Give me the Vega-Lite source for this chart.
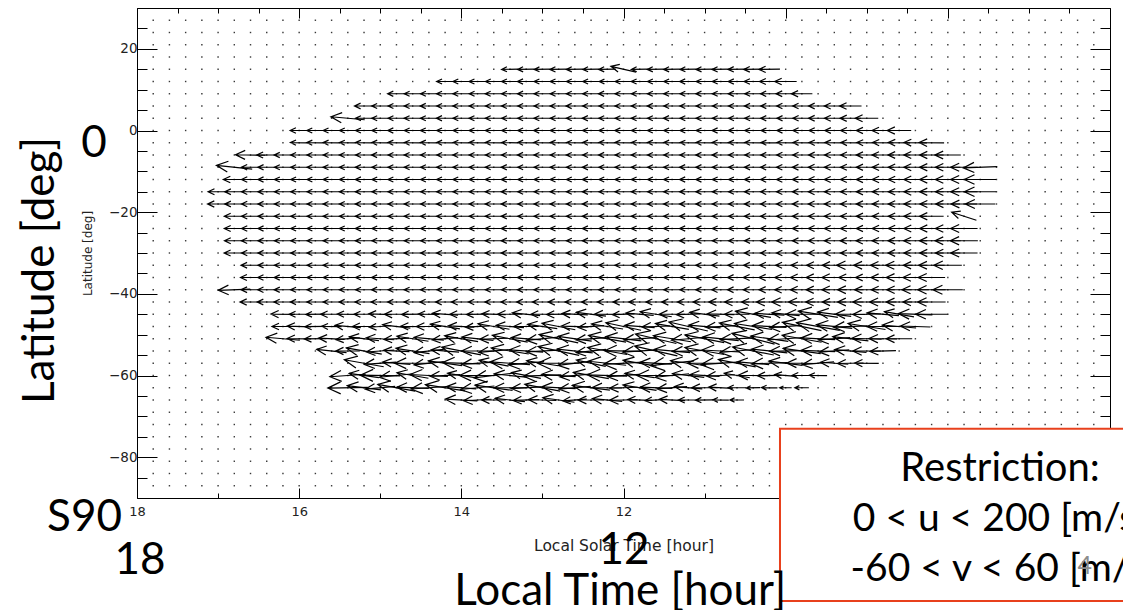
{
  "$schema": "https://vega.github.io/schema/vega-lite/v6.json",
  "width": 973,
  "height": 490,
  "autosize": {"type": "none"},
  "padding": {"left": 137, "top": 8, "right": 13, "bottom": 112},
  "background": "white",
  "config": {
    "view": {"stroke": "black", "strokeWidth": 1},
    "axis": {"domain": false, "grid": false}
  },
  "data": {"values": [{}]},
  "datasets": {
    "grid": [
      {"gl": [17.8,17.6,17.4,17.2,17,16.8,16.6,16.4,16.2,16,15.8,15.6,15.4,15.2,15,14.8,14.6,14.4,14.2,14,13.8,13.6,13.4,13.2,13,12.8,12.6,12.4,12.2,12,11.8,11.6,11.4,11.2,11,10.8,10.6,10.4,10.2,10,9.8,9.6,9.4,9.2,9,8.8,8.6,8.4,8.2,8,7.8,7.6,7.4,7.2,7,6.8,6.6,6.4,6.2],
       "ga": [27,24,21,18,15,12,9,6,3,0,-3,-6,-9,-12,-15,-18,-21,-24,-27,-30,-33,-36,-39,-42,-45,-48,-51,-54,-57,-60,-63,-66,-69,-72,-75,-78,-81,-84,-87]}
    ],
    "core": [
      {"lat": 15, "h": 269, "lt": [13.4,13.2,13,12.8,12.6,12.4,12.2,11.8,11.6,11.4,11.2,11,10.8,10.6,10.4,10.2], "s": [84,86,82,88,85,83,86,84,87,85,83,86,88,90,95,105]},
      {"lat": 12, "h": 270, "lt": [14.2,14,13.8,13.6,13.4,13.2,13,12.8,12.6,12.4,12.2,12,11.8,11.6,11.4,11.2,11,10.8,10.6,10.4,10.2,10], "s": [85,84,86,83,85,88,84,86,85,83,80,84,86,85,84,87,85,86,88,92,100,110]},
      {"lat": 9, "h": 270, "lt": [14.8,14.6,14.4,14.2,14,13.8,13.6,13.4,13.2,13,12.8,12.6,12.4,12.2,12,11.8,11.6,11.4,11.2,11,10.8,10.6,10.4,10.2,10,9.8], "s": [88,85,84,86,85,83,86,85,87,84,85,86,84,88,85,83,86,85,84,87,86,88,85,90,96,105]},
      {"lat": 6, "h": 270, "lt": [15.2,15,14.8,14.6,14.4,14.2,14,13.8,13.6,13.4,13.2,13,12.8,12.6,12.4,12.2,12,11.8,11.6,11.4,11.2,11,10.8,10.6,10.4,10.2,10,9.8,9.6,9.4,9.2], "s": [95,86,84,85,87,84,86,85,83,86,85,84,86,88,85,84,86,85,87,84,86,85,84,86,88,87,90,92,95,100,110]},
      {"lat": 3, "h": 270, "lt": [15.2,15,14.8,14.6,14.4,14.2,14,13.8,13.6,13.4,13.2,13,12.8,12.6,12.4,12.2,12,11.8,11.6,11.4,11.2,11,10.8,10.6,10.4,10.2,10,9.8,9.6,9.4,9.2,9], "s": [86,85,84,86,85,87,84,86,85,83,86,85,84,86,88,85,84,86,85,87,84,86,85,84,86,88,87,90,95,98,105,115]},
      {"lat": 0, "h": 270, "lt": [16,15.8,15.6,15.4,15.2,15,14.8,14.6,14.4,14.2,14,13.8,13.6,13.4,13.2,13,12.8,12.6,12.4,12.2,12,11.8,11.6,11.4,11.2,11,10.8,10.6,10.4,10.2,10,9.8,9.6,9.4,9.2,9,8.8,8.6], "s": [90,86,85,84,86,85,87,84,86,85,83,86,85,84,86,88,85,84,86,85,87,84,86,85,84,86,88,87,86,85,88,90,92,95,100,105,110,120]},
      {"lat": -3, "h": 271, "lt": [16,15.8,15.6,15.4,15.2,15,14.8,14.6,14.4,14.2,14,13.8,13.6,13.4,13.2,13,12.8,12.6,12.4,12.2,12,11.8,11.6,11.4,11.2,11,10.8,10.6,10.4,10.2,10,9.8,9.6,9.4,9.2,9,8.8,8.6,8.4,8.2], "s": [88,86,85,84,86,85,87,84,86,85,83,86,85,84,86,88,85,84,86,85,87,84,86,85,84,86,88,87,86,85,88,90,92,95,98,100,105,110,115,125]},
      {"lat": -6, "h": 270, "lt": [16.4,16.2,16,15.8,15.6,15.4,15.2,15,14.8,14.6,14.4,14.2,14,13.8,13.6,13.4,13.2,13,12.8,12.6,12.4,12.2,12,11.8,11.6,11.4,11.2,11,10.8,10.6,10.4,10.2,10,9.8,9.6,9.4,9.2,9,8.8,8.6,8.4,8.2,8], "s": [100,88,86,85,84,86,85,87,84,86,85,83,86,85,84,86,88,85,84,86,85,87,84,86,85,84,86,88,87,86,85,88,90,92,95,98,100,105,110,112,115,120,130]},
      {"lat": -9, "h": 270, "lt": [16.6,16.4,16.2,16,15.8,15.6,15.4,15.2,15,14.8,14.6,14.4,14.2,14,13.8,13.6,13.4,13.2,13,12.8,12.6,12.4,12.2,12,11.8,11.6,11.4,11.2,11,10.8,10.6,10.4,10.2,10,9.8,9.6,9.4,9.2,9,8.8,8.6,8.4,8.2,8,7.8], "s": [92,88,86,85,84,86,85,87,84,86,85,83,86,85,84,86,88,85,84,86,85,87,84,86,85,84,86,88,87,86,85,88,90,92,95,98,100,102,105,108,110,115,120,125,135]},
      {"lat": -12, "h": 270, "lt": [16.8,16.6,16.4,16.2,16,15.8,15.6,15.4,15.2,15,14.8,14.6,14.4,14.2,14,13.8,13.6,13.4,13.2,13,12.8,12.6,12.4,12.2,12,11.8,11.6,11.4,11.2,11,10.8,10.6,10.4,10.2,10,9.8,9.6,9.4,9.2,9,8.8,8.6,8.4,8.2,8,7.8,7.6], "s": [110,90,88,86,85,84,86,85,87,84,86,85,83,86,85,84,86,88,85,84,86,85,87,84,86,85,84,86,88,87,86,85,88,90,92,95,98,100,102,105,108,110,115,120,125,135,160]},
      {"lat": -15, "h": 270, "lt": [17,16.8,16.6,16.4,16.2,16,15.8,15.6,15.4,15.2,15,14.8,14.6,14.4,14.2,14,13.8,13.6,13.4,13.2,13,12.8,12.6,12.4,12.2,12,11.8,11.6,11.4,11.2,11,10.8,10.6,10.4,10.2,10,9.8,9.6,9.4,9.2,9,8.8,8.6,8.4,8.2,8,7.8,7.6], "s": [100,95,90,88,86,85,84,86,85,87,84,86,85,83,86,85,84,86,88,85,84,86,85,87,84,86,85,84,86,88,87,86,85,88,90,92,95,98,100,102,105,108,110,115,120,125,135,160]},
      {"lat": -18, "h": 270, "lt": [17,16.8,16.6,16.4,16.2,16,15.8,15.6,15.4,15.2,15,14.8,14.6,14.4,14.2,14,13.8,13.6,13.4,13.2,13,12.8,12.6,12.4,12.2,12,11.8,11.6,11.4,11.2,11,10.8,10.6,10.4,10.2,10,9.8,9.6,9.4,9.2,9,8.8,8.6,8.4,8.2,8,7.8,7.6], "s": [105,95,90,88,86,85,84,86,85,87,84,86,85,83,86,85,84,86,88,85,84,86,85,87,84,86,85,84,86,88,87,86,85,88,90,92,95,98,100,102,105,108,110,115,118,122,130,150]},
      {"lat": -21, "h": 270, "lt": [16.8,16.6,16.4,16.2,16,15.8,15.6,15.4,15.2,15,14.8,14.6,14.4,14.2,14,13.8,13.6,13.4,13.2,13,12.8,12.6,12.4,12.2,12,11.8,11.6,11.4,11.2,11,10.8,10.6,10.4,10.2,10,9.8,9.6,9.4,9.2,9,8.8,8.6,8.4,8.2], "s": [100,90,88,86,85,84,86,85,87,84,86,85,83,86,85,84,86,88,85,84,86,85,87,84,86,85,84,86,88,87,86,85,88,90,92,95,98,100,102,105,108,110,115,120]},
      {"lat": -24, "h": 270, "lt": [16.8,16.6,16.4,16.2,16,15.8,15.6,15.4,15.2,15,14.8,14.6,14.4,14.2,14,13.8,13.6,13.4,13.2,13,12.8,12.6,12.4,12.2,12,11.8,11.6,11.4,11.2,11,10.8,10.6,10.4,10.2,10,9.8,9.6,9.4,9.2,9,8.8,8.6,8.4,8.2,8,7.8], "s": [100,90,88,86,85,84,86,85,87,84,86,85,83,86,85,84,86,88,85,84,86,85,87,84,86,85,84,86,88,87,86,85,88,90,92,95,98,100,102,105,108,110,115,120,125,135]},
      {"lat": -27, "h": 270, "lt": [16.8,16.6,16.4,16.2,16,15.8,15.6,15.4,15.2,15,14.8,14.6,14.4,14.2,14,13.8,13.6,13.4,13.2,13,12.8,12.6,12.4,12.2,12,11.8,11.6,11.4,11.2,11,10.8,10.6,10.4,10.2,10,9.8,9.6,9.4,9.2,9,8.8,8.6,8.4,8.2,8,7.8], "s": [98,92,88,86,85,84,86,85,87,84,86,85,83,86,85,84,86,88,85,84,86,85,87,84,86,85,84,86,88,87,86,85,88,90,92,95,98,100,104,108,110,112,118,122,128,138]},
      {"lat": -30, "h": 270, "lt": [16.8,16.6,16.4,16.2,16,15.8,15.6,15.4,15.2,15,14.8,14.6,14.4,14.2,14,13.8,13.6,13.4,13.2,13,12.8,12.6,12.4,12.2,12,11.8,11.6,11.4,11.2,11,10.8,10.6,10.4,10.2,10,9.8,9.6,9.4,9.2,9,8.8,8.6,8.4,8.2,8,7.8], "s": [102,90,88,86,85,84,86,85,87,84,86,85,83,86,85,84,86,88,85,84,86,85,87,84,86,85,84,86,88,87,86,85,88,90,92,95,98,100,102,105,108,112,115,120,125,135]},
      {"lat": -33, "h": 270, "lt": [16.6,16.4,16.2,16,15.8,15.6,15.4,15.2,15,14.8,14.6,14.4,14.2,14,13.8,13.6,13.4,13.2,13,12.8,12.6,12.4,12.2,12,11.8,11.6,11.4,11.2,11,10.8,10.6,10.4,10.2,10,9.8,9.6,9.4,9.2,9,8.8,8.6,8.4,8.2,8], "s": [95,88,86,85,84,86,85,87,84,86,85,83,86,85,84,86,88,85,84,86,85,87,84,86,85,84,86,88,87,90,92,95,98,100,110,115,120,140,130,125,135,120,130,140]},
      {"lat": -36, "h": 270, "lt": [16.6,16.4,16.2,16,15.8,15.6,15.4,15.2,15,14.8,14.6,14.4,14.2,14,13.8,13.6,13.4,13.2,13,12.8,12.6,12.4,12.2,12,11.8,11.6,11.4,11.2,11,10.8,10.6,10.4,10.2,10,9.8,9.6,9.4,9.2,9,8.8,8.6,8.4,8.2], "s": [100,90,88,86,85,84,86,85,87,84,86,85,83,86,85,84,86,88,85,84,86,85,87,84,86,85,84,86,88,90,95,100,105,110,115,120,125,118,112,120,130,125,135]},
      {"lat": -39, "h": 270, "lt": [16.6,16.4,16.2,16,15.8,15.6,15.4,15.2,15,14.8,14.6,14.4,14.2,14,13.8,13.6,13.4,13.2,13,12.8,12.6,12.4,12.2,12,11.8,11.6,11.4,11.2,11,10.8,10.6,10.4,10.2,10,9.8,9.6,9.4,9.2,9,8.8,8.6,8.4,8.2,8], "s": [95,90,88,86,85,84,86,85,87,84,86,85,83,86,85,84,86,88,85,84,86,85,87,84,86,85,84,86,88,90,95,100,105,110,115,120,125,130,122,118,125,135,140,150]},
      {"lat": -42, "h": 270, "lt": [16.6,16.4,16.2,16,15.8,15.6,15.4,15.2,15,14.8,14.6,14.4,14.2,14,13.8,13.6,13.4,13.2,13,12.8,12.6,12.4,12.2,12,11.8,11.6,11.4,11.2,11,10.8,10.6,10.4,10.2,10,9.8,9.6,9.4,9.2,9,8.8,8.6,8.4,8.2], "s": [105,95,90,88,86,85,87,90,92,88,86,90,95,100,92,88,90,95,100,105,98,95,100,105,110,100,105,110,115,120,125,118,130,140,135,125,120,130,140,135,130,125,140]}
    ],
    "vary": [
      {"lat": 15, "lt": [12], "s": [130], "h": [283]},
      {"lat": 3, "lt": [15.4], "s": [170], "h": [275]},
      {"lat": -6, "lt": [16.6], "s": [150], "h": [271]},
      {"lat": -9, "lt": [16.8, 7.6], "s": [180, 170], "h": [276, 268]},
      {"lat": -21, "lt": [7.8], "s": [130], "h": [288]},
      {"lat": -39, "lt": [16.8], "s": [160], "h": [268]},
      {"lat": -45, "lt": [16.2,16,15.8,15.6,15.4,15.2,15,14.8,14.6,14.4,14.2,14,13.8,13.6,13.4,13.2,13,12.8,12.6,12.4,12.2,12,11.8,11.6,11.4,11.2,11,10.8,10.6,10.4,10.2,10,9.8,9.6,9.4,9.2,9,8.8,8.6,8.4,8.2],
       "s": [120,100,95,110,105,100,115,120,110,105,130,115,110,120,125,140,115,120,130,150,125,110,140,160,130,120,150,135,125,180,150,140,160,200,170,150,140,160,150,170,160],
       "h": [271,270,269,270,271,270,272,270,269,271,274,270,269,272,270,276,270,269,273,277,271,268,275,279,270,268,277,272,270,280,273,276,270,279,277,271,269,275,280,272,270]},
      {"lat": -48, "lt": [16.2,16,15.8,15.6,15.4,15.2,15,14.8,14.6,14.4,14.2,14,13.8,13.6,13.4,13.2,13,12.8,12.6,12.4,12.2,12,11.8,11.6,11.4,11.2,11,10.8,10.6,10.4,10.2,10,9.8,9.6,9.4,9.2,9,8.8,8.6,8.4],
       "s": [110,120,105,100,130,115,110,140,120,125,150,130,120,160,140,125,150,170,135,130,160,180,150,140,170,200,160,150,180,190,170,160,200,220,180,170,190,160,170,150],
       "h": [270,272,269,271,275,270,266,277,271,270,279,273,267,280,275,270,278,281,272,266,279,282,274,268,280,283,275,267,281,279,273,266,282,280,276,268,279,270,275,272]},
      {"lat": -51, "lt": [16.2,16,15.8,15.6,15.4,15.2,15,14.8,14.6,14.4,14.2,14,13.8,13.6,13.4,13.2,13,12.8,12.6,12.4,12.2,12,11.8,11.6,11.4,11.2,11,10.8,10.6,10.4,10.2,10,9.8,9.6,9.4,9.2,9,8.8,8.6],
       "s": [170,120,110,130,120,150,140,125,160,150,130,170,160,140,180,150,160,200,170,150,190,180,160,210,190,170,200,180,170,220,190,180,200,170,160,180,150,140,130],
       "h": [275,271,269,273,266,277,274,267,279,275,265,280,276,268,281,274,264,282,278,266,280,277,266,283,279,265,281,276,267,284,278,266,280,273,266,277,272,271,270]},
      {"lat": -54, "lt": [15.6,15.4,15.2,15,14.8,14.6,14.4,14.2,14,13.8,13.6,13.4,13.2,13,12.8,12.6,12.4,12.2,12,11.8,11.6,11.4,11.2,11,10.8,10.6,10.4,10.2,10,9.8,9.6,9.4,9.2,9,8.8],
       "s": [150,120,180,140,130,170,150,140,200,160,150,190,170,160,210,180,150,200,190,170,220,180,160,200,190,170,210,180,160,190,170,150,160,140,130],
       "h": [276,270,280,266,273,279,264,275,281,270,265,279,274,267,282,276,264,280,271,266,283,275,268,280,273,265,281,276,269,278,272,266,275,270,268]},
      {"lat": -57, "lt": [15.2,15,14.8,14.6,14.4,14.2,14,13.8,13.6,13.4,13.2,13,12.8,12.6,12.4,12.2,12,11.8,11.6,11.4,11.2,11,10.8,10.6,10.4,10.2,10,9.8,9.6,9.4,9.2,9],
       "s": [200,160,140,180,150,170,190,160,150,200,180,160,210,170,150,190,200,170,160,220,180,170,200,190,160,180,170,150,160,140,130,120],
       "h": [280,266,275,270,264,278,272,266,281,274,265,279,270,263,282,276,267,280,273,264,278,270,266,281,275,268,277,271,265,274,269,271]},
      {"lat": -60, "lt": [15.4,15.2,15,14.8,14.6,14.4,14.2,14,13.8,13.6,13.4,13.2,13,12.8,12.6,12.4,12.2,12,11.8,11.6,11.4,11.2,11,10.8,10.6,10.4,10.2,10,9.8,9.6],
       "s": [180,150,200,170,160,190,150,140,180,200,160,150,190,170,150,180,200,160,150,190,170,160,150,140,130,150,120,110,100,90],
       "h": [266,278,271,264,280,273,267,279,270,263,276,281,268,274,265,280,272,266,278,270,264,277,273,267,280,271,269,275,270,271]},
      {"lat": -63, "lt": [15.4,15.2,15,14.8,14.6,14.4,14.2,14,13.8,13.6,13.4,13.2,13,12.8,12.6,12.4,12.2,12,11.8,11.6,11.4,11.2,11,10.8,10.6,10.4,10.2,10,9.8],
       "s": [200,170,150,190,160,180,200,150,170,190,160,150,180,170,160,190,150,140,170,160,150,140,130,120,90,70,80,60,70],
       "h": [269,277,265,280,272,266,279,274,264,278,270,267,281,273,265,277,271,268,279,272,266,275,270,273,270,269,271,270,270]},
      {"lat": -66, "lt": [14,13.8,13.6,13.4,13.2,13,12.8,12.6,12.4,12.2,12,11.8,11.6,11.4,11.2,11,10.8,10.6],
       "s": [160,140,120,150,130,140,160,120,130,150,140,120,110,130,100,90,80,70],
       "h": [273,267,270,276,268,272,278,266,270,275,269,272,267,273,270,269,271,270]}
    ]
  },
  "resolve": {"axis": {"x": "independent", "y": "independent"}},
  "layer": [
    {
      "data": {"name": "grid"},
      "transform": [
        {"flatten": ["gl"], "as": ["lt"]},
        {"flatten": ["ga"], "as": ["lat"]}
      ],
      "mark": {"type": "square", "size": 2, "color": "#222", "opacity": 0.9},
      "encoding": {
        "x": {"field": "lt", "type": "quantitative",
          "scale": {"domain": [6, 18], "reverse": true, "nice": false, "zero": false},
          "axis": {"orient": "bottom",
            "values": [18,17.5,17,16.5,16,15.5,15,14.5,14,13.5,13,12.5,12,11.5,11,10.5,10,9.5,9,8.5,8,7.5,7,6.5,6],
            "format": "d",
            "labelExpr": "datum.value % 2 == 0 ? datum.label : ''",
            "labelFlush": false, "labelOverlap": false,
            "tickColor": "black", "tickWidth": 1,
            "tickSize": {"condition": {"test": "datum.value % 2 == 0", "value": -10}, "value": -5},
            "labelPadding": 17, "labelFont": "DejaVu Sans", "labelFontSize": 13, "labelColor": "#222",
            "title": "Local Solar Time [hour]", "titleFont": "DejaVu Sans", "titleFontSize": 15.5,
            "titleFontWeight": "normal", "titleColor": "#222", "titlePadding": 15}},
        "y": {"field": "lat", "type": "quantitative",
          "scale": {"domain": [-90, 30], "nice": false, "zero": false},
          "axis": {"orient": "left",
            "values": [30,25,20,15,10,5,0,-5,-10,-15,-20,-25,-30,-35,-40,-45,-50,-55,-60,-65,-70,-75,-80,-85,-90],
            "format": "d",
            "labelExpr": "datum.value % 20 == 0 ? datum.label : ''",
            "labelFlush": false, "labelOverlap": false,
            "tickColor": "black", "tickWidth": 1,
            "tickSize": {"condition": {"test": "datum.value % 20 == 0", "value": -20}, "value": -10},
            "labelPadding": 20, "labelFont": "DejaVu Sans", "labelFontSize": 13.5, "labelColor": "#222",
            "title": "Latitude [deg]", "titleFont": "DejaVu Sans", "titleFontSize": 12,
            "titleFontWeight": "normal", "titleColor": "#222", "titlePadding": 14}}
      }
    },
    {
      "data": {"name": "core"},
      "transform": [{"flatten": ["lt", "s"]}],
      "mark": {"type": "point", "shape": "M-1,0L1,0M0.36,-0.3L1,0L0.36,0.3", "filled": false, "color": "black", "strokeWidth": 1.2, "opacity": 1},
      "encoding": {
        "x": {"field": "lt", "type": "quantitative",
          "axis": {"orient": "top",
            "values": [18,17.5,17,16.5,16,15.5,15,14.5,14,13.5,13,12.5,12,11.5,11,10.5,10,9.5,9,8.5,8,7.5,7,6.5,6],
            "labels": false, "title": null, "tickColor": "black", "tickWidth": 1,
            "tickSize": {"condition": {"test": "datum.value % 2 == 0", "value": -10}, "value": -5}}},
        "y": {"field": "lat", "type": "quantitative",
          "axis": {"orient": "right",
            "values": [30,25,20,15,10,5,0,-5,-10,-15,-20,-25,-30,-35,-40,-45,-50,-55,-60,-65,-70,-75,-80,-85,-90],
            "labels": false, "title": null, "tickColor": "black", "tickWidth": 1,
            "tickSize": {"condition": {"test": "datum.value % 20 == 0", "value": -20}, "value": -10}}},
        "size": {"field": "s", "type": "quantitative", "scale": {"type": "pow", "exponent": 2, "domain": [0, 300], "range": [0, 3600]}, "legend": null},
        "angle": {"field": "h", "type": "quantitative", "scale": {"domain": [0, 360], "range": [-90, 270]}, "legend": null}
      }
    },
    {
      "data": {"name": "vary"},
      "transform": [{"flatten": ["lt", "s", "h"]}],
      "mark": {"type": "point", "shape": "M-1,0L1,0M0.36,-0.3L1,0L0.36,0.3", "filled": false, "color": "black", "strokeWidth": 1.2, "opacity": 1},
      "encoding": {
        "x": {"field": "lt", "type": "quantitative", "axis": null},
        "y": {"field": "lat", "type": "quantitative", "axis": null},
        "size": {"field": "s", "type": "quantitative", "scale": {"type": "pow", "exponent": 2, "domain": [0, 300], "range": [0, 3600]}, "legend": null},
        "angle": {"field": "h", "type": "quantitative", "scale": {"domain": [0, 360], "range": [-90, 270]}, "legend": null}
      }
    },
    {
      "mark": {"type": "rect", "fill": "white", "stroke": "#e8401c", "strokeWidth": 2},
      "encoding": {
        "x": {"datum": 10.07, "type": "quantitative", "axis": null},
        "x2": {"datum": 5.2},
        "y": {"datum": -73.06, "type": "quantitative", "axis": null},
        "y2": {"datum": -115.2}
      }
    },
    {
      "mark": {"type": "text", "text": "0", "font": "Lato", "fontSize": 44, "color": "black", "align": "center", "baseline": "alphabetic"},
      "encoding": {"x": {"datum": 18.53, "type": "quantitative", "axis": null}, "y": {"datum": -6.5, "type": "quantitative", "axis": null}}
    },
    {
      "mark": {"type": "text", "text": "Latitude [deg]", "font": "Lato", "fontSize": 44, "color": "black", "align": "center", "baseline": "alphabetic", "angle": 270},
      "encoding": {"x": {"datum": 19.02, "type": "quantitative", "axis": null}, "y": {"datum": -34.3, "type": "quantitative", "axis": null}}
    },
    {
      "mark": {"type": "text", "text": "S90", "font": "Lato", "fontSize": 44, "color": "black", "align": "center", "baseline": "alphabetic"},
      "encoding": {"x": {"datum": 18.647, "type": "quantitative", "axis": null}, "y": {"datum": -98.05, "type": "quantitative", "axis": null}}
    },
    {
      "mark": {"type": "text", "text": "18", "font": "Lato", "fontSize": 44, "color": "black", "align": "center", "baseline": "alphabetic"},
      "encoding": {"x": {"datum": 17.963, "type": "quantitative", "axis": null}, "y": {"datum": -108.6, "type": "quantitative", "axis": null}}
    },
    {
      "mark": {"type": "text", "text": "12", "font": "Lato", "fontSize": 44, "color": "black", "align": "center", "baseline": "alphabetic"},
      "encoding": {"x": {"datum": 11.994, "type": "quantitative", "axis": null}, "y": {"datum": -106.1, "type": "quantitative", "axis": null}}
    },
    {
      "mark": {"type": "text", "text": "Local Time [hour]", "font": "Lato", "fontSize": 44, "color": "black", "align": "center", "baseline": "alphabetic"},
      "encoding": {"x": {"datum": 12.04, "type": "quantitative", "axis": null}, "y": {"datum": -116.2, "type": "quantitative", "axis": null}}
    },
    {
      "mark": {"type": "text", "text": "Restriction:", "font": "Lato", "fontSize": 40, "color": "black", "align": "center", "baseline": "alphabetic"},
      "encoding": {"x": {"datum": 7.356, "type": "quantitative", "axis": null}, "y": {"datum": -85.78, "type": "quantitative", "axis": null}}
    },
    {
      "mark": {"type": "text", "text": "0 < u < 200 [m/s]", "font": "Lato", "fontSize": 39, "color": "black", "align": "left", "baseline": "alphabetic"},
      "encoding": {"x": {"datum": 9.172, "type": "quantitative", "axis": null}, "y": {"datum": -98.05, "type": "quantitative", "axis": null}}
    },
    {
      "mark": {"type": "text", "text": "-60 < v < 60 [m/s]", "font": "Lato", "fontSize": 39, "color": "black", "align": "left", "baseline": "alphabetic"},
      "encoding": {"x": {"datum": 9.2, "type": "quantitative", "axis": null}, "y": {"datum": -110.3, "type": "quantitative", "axis": null}}
    },
    {
      "mark": {"type": "text", "text": "4", "font": "Lato", "fontSize": 25, "color": "#8c8c8c", "align": "center", "baseline": "alphabetic"},
      "encoding": {"x": {"datum": 6.31, "type": "quantitative", "axis": null}, "y": {"datum": -108.7, "type": "quantitative", "axis": null}}
    }
  ]
}
